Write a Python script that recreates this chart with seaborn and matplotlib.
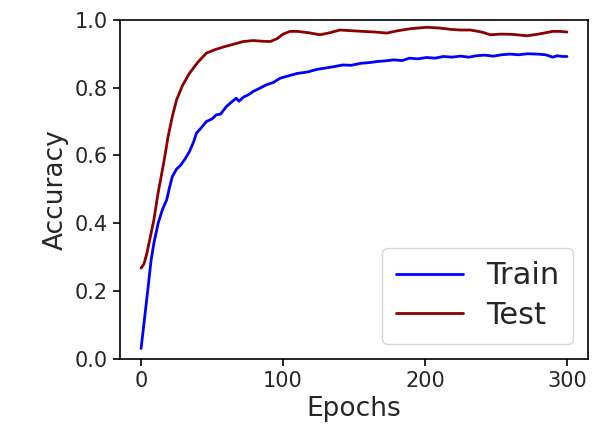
import numpy as np
import pandas as pd
import matplotlib
matplotlib.use("Agg")
import matplotlib.pyplot as plt
import seaborn as sns

# values
train_epochs = [0, 3, 5, 7, 9, 12, 15, 18, 20, 22, 25, 28, 31, 34, 37, 39, 42, 46, 50, 53, 56,
                60, 63, 67, 69, 72, 76, 79, 83, 88, 93, 98, 104, 110, 117, 124, 130, 136, 142,
                148, 155, 161, 166, 172, 178, 184, 189, 195, 201, 207, 213, 219, 225, 231, 236,
                242, 248, 254, 260, 266, 272, 279, 285, 290, 293, 297, 300]
train_acc = [0.031, 0.14, 0.213, 0.29, 0.341, 0.40, 0.44, 0.469, 0.505, 0.538, 0.56, 0.572,
             0.59, 0.611, 0.64, 0.666, 0.68, 0.70, 0.708, 0.72, 0.722, 0.744, 0.755, 0.769,
             0.76, 0.772, 0.78, 0.789, 0.797, 0.808, 0.815, 0.828, 0.835, 0.842, 0.846, 0.854,
             0.858, 0.862, 0.867, 0.866, 0.872, 0.874, 0.877, 0.879, 0.882, 0.880, 0.887,
             0.885, 0.889, 0.887, 0.892, 0.890, 0.893, 0.890, 0.894, 0.896, 0.893, 0.897,
             0.899, 0.897, 0.900, 0.899, 0.897, 0.890, 0.894, 0.892, 0.892]

test_epochs = [0, 2, 4, 6, 9, 12, 16, 19, 22, 25, 29, 34, 40, 46, 52, 58, 65, 72, 79, 85, 91,
               96, 100, 105, 110, 118, 126, 133, 140, 148, 156, 165, 173, 181, 190, 201, 210,
               218, 225, 232, 240, 246, 254, 262, 272, 280, 290, 295, 300]
test_acc = [0.268, 0.28, 0.31, 0.35, 0.41, 0.49, 0.58, 0.655, 0.715, 0.764, 0.805, 0.842,
            0.875, 0.902, 0.912, 0.92, 0.928, 0.936, 0.939, 0.937, 0.936, 0.945, 0.958,
            0.966, 0.966, 0.962, 0.956, 0.962, 0.970, 0.968, 0.966, 0.964, 0.961, 0.968,
            0.974, 0.978, 0.976, 0.972, 0.970, 0.970, 0.964, 0.956, 0.958, 0.957, 0.953,
            0.958, 0.966, 0.966, 0.964]

train_df = pd.DataFrame({"Epochs": train_epochs, "Accuracy": train_acc})
test_df = pd.DataFrame({"Epochs": test_epochs, "Accuracy": test_acc})

sns.set_style("ticks")
plt.rcParams["font.family"] = ["DejaVu Sans"]

fig = plt.figure(figsize=(5.93, 4.41), dpi=100)
ax = fig.add_axes([0.202, 0.186, 0.79, 0.769])

sns.lineplot(data=train_df, x="Epochs", y="Accuracy", color="blue", linewidth=2, label="Train", ax=ax)
sns.lineplot(data=test_df, x="Epochs", y="Accuracy", color="darkred", linewidth=2, label="Test", ax=ax)

ax.set_ylim(0, 1.0)
ax.set_xlim(-15, 315)
ax.set_xticks([0, 100, 200, 300])
ax.set_yticks([0.0, 0.2, 0.4, 0.6, 0.8, 1.0])
ax.tick_params(labelsize=15, length=5, width=1.2, color="black")
ax.set_xlabel("Epochs", fontsize=19)
ax.set_ylabel("Accuracy", fontsize=19)
for s in ax.spines.values():
    s.set_color("black")
    s.set_linewidth(1.2)

ax.legend(loc="lower right", fontsize=22, handlelength=2.2, borderpad=0.45, labelspacing=0.35,
          handletextpad=0.75, borderaxespad=0.5)

fig.savefig("out.png", dpi=100)
